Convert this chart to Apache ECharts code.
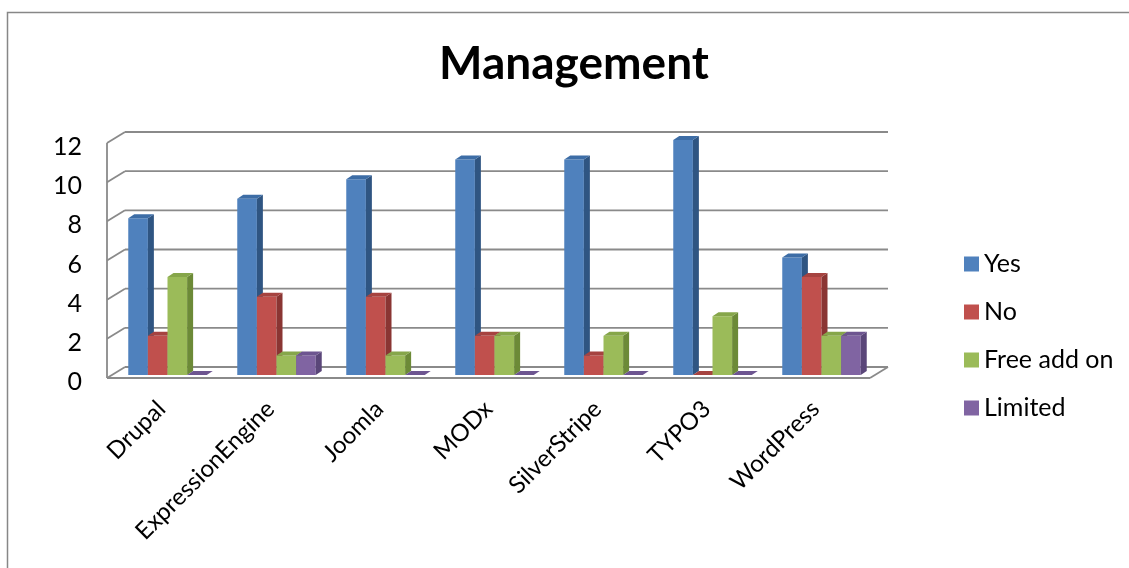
<!DOCTYPE html>
<html>
<head>
<meta charset="utf-8">
<script src="https://cdn.jsdelivr.net/npm/echarts@6/dist/echarts.min.js"></script>
<style>
html,body{margin:0;padding:0;background:#fff;}
#chart{width:1129px;height:568px;}
</style>
</head>
<body>
<div id="chart"></div>
<script>
var categories = ['Drupal','ExpressionEngine','Joomla','MODx','SilverStripe','TYPO3','WordPress'];
var yesValues = [8, 9, 10, 11, 11, 12, 6];
var noValues = [2, 4, 4, 2, 1, 0, 5];
var freeAddOnValues = [5, 1, 1, 2, 2, 3, 2];
var limitedValues = [0, 1, 0, 0, 0, 0, 2];
var yTicks = [0, 2, 4, 6, 8, 10, 12];
var seriesNames = ['Yes', 'No', 'Free add on', 'Limited'];

var FONT = 'Lato';
var faces = [
  {front:'#4F81BD', side:'#2F5582', top:'#3D6DA6'},
  {front:'#C0504D', side:'#8A3533', top:'#A64340'},
  {front:'#9BBB59', side:'#6C8A37', top:'#86A64A'},
  {front:'#8064A2', side:'#5A4679', top:'#6D5590'}
];
var WALL_DX = 18, WALL_DY = -11;
var BAR_DX = 6, BAR_DY = -3, DEPTH_X = 6, DEPTH_Y = -4;
var GRID_COLOR = '#8a8a8a';

function frameRender(params, api) {
  var v = api.value(1);
  var band = api.size([1, 0])[0];
  var pL = api.coord([0, v]); var pR = api.coord([categories.length - 1, v]);
  var xl = pL[0] - band / 2, xr = pR[0] + band / 2, y = pL[1];
  var style = {stroke: GRID_COLOR, lineWidth: 1.8, fill: null};
  var children = [
    {type:'line', shape:{x1:xl + WALL_DX, y1:y + WALL_DY, x2:xr + WALL_DX, y2:y + WALL_DY}, style:style},
    {type:'line', shape:{x1:xl, y1:y, x2:xl + WALL_DX, y2:y + WALL_DY}, style:style}
  ];
  if (v === 0) {
    var top = api.coord([0, yTicks[yTicks.length - 1]])[1];
    children.push({type:'line', shape:{x1:xl, y1:top, x2:xl, y2:y}, style:style});
    children.push({type:'line', shape:{x1:xl, y1:y, x2:xr, y2:y}, style:style});
    children.push({type:'line', shape:{x1:xr, y1:y, x2:xr + WALL_DX, y2:y + WALL_DY}, style:style});
  }
  return {type:'group', children:children};
}

function makeBarRender(idx) {
  return function (params, api) {
    var c = api.value(0), v = api.value(1);
    var band = api.size([1, 0])[0];
    var w = band * 0.18;
    var base = api.coord([c, 0]);
    var topP = api.coord([c, v]);
    var x0 = base[0] - 2 * w + idx * w + BAR_DX;
    var yb = base[1] + BAR_DY, yt = topP[1] + BAR_DY;
    var f = faces[idx];
    return {type:'group', children:[
      {type:'rect', shape:{x:x0, y:yt, width:w, height:yb - yt}, style:{fill:f.front}},
      {type:'polygon', shape:{points:[[x0 + w, yt],[x0 + w + DEPTH_X, yt + DEPTH_Y],[x0 + w + DEPTH_X, yb + DEPTH_Y],[x0 + w, yb]]}, style:{fill:f.side}},
      {type:'polygon', shape:{points:[[x0, yt],[x0 + DEPTH_X, yt + DEPTH_Y],[x0 + w + DEPTH_X, yt + DEPTH_Y],[x0 + w, yt]]}, style:{fill:f.top}}
    ]};
  };
}

var valueSets = [yesValues, noValues, freeAddOnValues, limitedValues];
var series = [{
  name: 'frame', type: 'custom', clip: false, silent: true, z: 1,
  renderItem: frameRender,
  data: yTicks.map(function (t) { return [0, t]; })
}];
valueSets.forEach(function (vals, i) {
  series.push({
    name: seriesNames[i], type: 'custom', clip: false, z: 2 + i,
    itemStyle: {color: faces[i].front},
    renderItem: makeBarRender(i),
    data: vals.map(function (v, k) { return [k, v]; })
  });
});

var chart = echarts.init(document.getElementById('chart'), null, {renderer: 'canvas'});
chart.setOption({
  animation: false,
  backgroundColor: '#fff',
  title: {
    text: 'Management', left: 574, top: 41, textAlign: 'center', padding: 0,
    textStyle: {fontFamily: FONT, fontWeight: 'bold', fontSize: 46, color: '#000'}
  },
  legend: {
    orient: 'vertical', left: 964, top: 251, padding: 0,
    data: seriesNames.map(function (n) { return {name: n, icon: 'rect'}; }),
    itemWidth: 15, itemHeight: 15, itemGap: 22,
    textStyle: {fontFamily: FONT, fontSize: 25, color: '#000', lineHeight: 26}
  },
  grid: {left: 107, right: 259, top: 143, bottom: 190, containLabel: false},
  xAxis: {
    type: 'category', data: categories,
    axisLine: {show: false}, axisTick: {show: false}, splitLine: {show: false},
    axisLabel: {rotate: 45, margin: 27, interval: 0, fontFamily: FONT, fontSize: 24, color: '#000'}
  },
  yAxis: {
    type: 'value', min: 0, max: 12, interval: 2,
    axisLine: {show: false}, axisTick: {show: false}, splitLine: {show: false},
    axisLabel: {margin: 25, fontFamily: FONT, fontSize: 25, color: '#000', verticalAlign: 'top', lineHeight: 8}
  },
  graphic: [{
    type: 'rect', silent: true, z: 0,
    shape: {x: 7.5, y: 12.5, width: 1140, height: 600},
    style: {fill: null, stroke: '#878787', lineWidth: 1.5}
  }],
  series: series
});
</script>
</body>
</html>
